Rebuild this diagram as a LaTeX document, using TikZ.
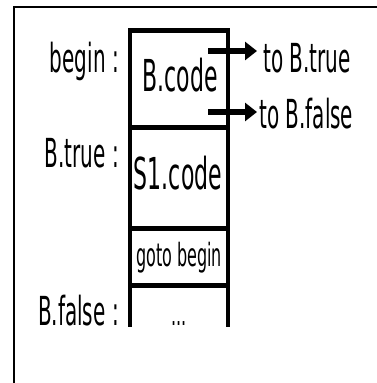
\documentclass[tikz,border=0pt]{standalone}
\usepackage{fontspec}
\newfontfamily\dv[FakeStretch=0.5]{DejaVu Sans}
\usetikzlibrary{arrows.meta}
\begin{document}
\begin{tikzpicture}[x=1pt,y=-1pt,
  lbl/.style={inner sep=0pt,font=\dv\fontsize{40}{40}\selectfont},
  boxtxt/.style={inner sep=0pt,font=\dv\fontsize{44}{44}\selectfont},
  smalltxt/.style={inner sep=0pt,font=\dv\fontsize{32}{32}\selectfont},
  vline/.style={line width=3.5pt},
  hbar/.style={line width=5pt},
  jump/.style={line width=6pt,-{Triangle[length=12pt,width=18pt]}}]
\useasboundingbox (0,0) rectangle (377,383);
\draw[line width=2.5pt] (14,383) -- (14,7) -- (377,7);
% column
\coordinate (tl) at (130,30);
\coordinate (tr) at (228,30);
\coordinate (bl) at (130,327);
\coordinate (br) at (228,327);
\draw[vline] (tl) -- (bl);
\draw[vline] (tr) -- (br);
\draw[hbar] (128.25,30) -- (229.75,30);
\draw[hbar] (128.25,127) -- (229.75,127);
\draw[hbar] (128.25,228) -- (229.75,228);
\draw[hbar] (128.25,285) -- (229.75,285);
% box texts
\node[boxtxt,anchor=base] (bcode) at (180,91) {B.code};
\node[boxtxt,anchor=base] (s1) at (178,189) {S1.code};
\node[smalltxt,anchor=base] (goto) at (179,266) {goto begin};
\node[smalltxt,anchor=base] (dots) at (179,325) {...};
% left labels
\node[lbl,anchor=base east] (begin) at (119,72) {begin :};
\node[lbl,anchor=base east] (btrue) at (119,167) {B.true :};
\node[lbl,anchor=base east] (bfalse) at (119,325) {B.false :};
% arrows
\node[lbl,anchor=base west] (totrue) at (263,72) {to B.true};
\node[lbl,anchor=base west] (tofalse) at (259,128) {to B.false};
\coordinate (a1) at (208,51);
\coordinate (a2) at (208,112);
\draw[jump,shorten >=6pt] (a1) -- (totrue.west |- a1);
\draw[jump,shorten >=2pt] (a2) -- (tofalse.west |- a2);
\end{tikzpicture}
\end{document}
